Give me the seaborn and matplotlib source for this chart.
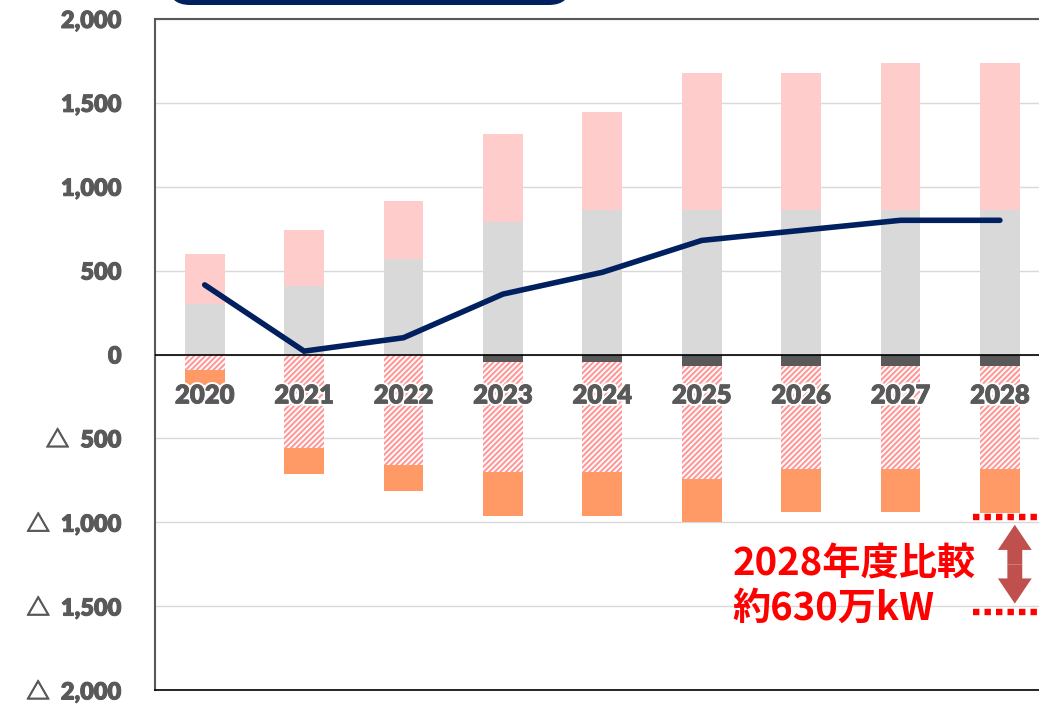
import numpy as np
import pandas as pd
import matplotlib
matplotlib.use("Agg")
import matplotlib.pyplot as plt
import matplotlib.patheffects as pe
from matplotlib.patches import FancyBboxPatch
from matplotlib.transforms import IdentityTransform
import seaborn as sns

# ---- data (万kW) ----
years = ["2020", "2021", "2022", "2023", "2024", "2025", "2026", "2027", "2028"]
supply_base = [300, 410, 570, 790, 860, 860, 860, 860, 860]
supply_add = [300, 330, 345, 525, 585, 820, 820, 880, 880]
loss_dark = [0, 0, 0, 45, 45, 70, 70, 70, 70]
loss_hatched = [95, 560, 660, 655, 655, 675, 615, 615, 615]
loss_orange = [85, 155, 155, 260, 260, 255, 255, 255, 260]
balance_line = [415, 20, 100, 360, 490, 680, 740, 800, 800]
ytick_values = [-2000, -1500, -1000, -500, 0, 500, 1000, 1500, 2000]
note_text = "2028年度比較\n約630万kW"
note_top, note_bottom = -970, -1535

sns.set_style("white")
plt.rcParams["font.family"] = ["Lato", "Noto Sans CJK JP", "DejaVu Sans"]
plt.rcParams["hatch.linewidth"] = 1.5

GRAY_TXT = "#595959"
NAVY = "#002060"

df = pd.DataFrame({
    "year": years,
    "base": supply_base,
    "add": supply_add,
    "dark": loss_dark,
    "hatched": loss_hatched,
    "orange": loss_orange,
})
df["neg_dark"] = -df["dark"]
df["neg_hatched"] = -df["hatched"]
df["neg_orange"] = -df["orange"]
hatch_bottom = -df["dark"]
orange_bottom = -(df["dark"] + df["hatched"])

fig = plt.figure(figsize=(10.39, 7.04), dpi=100)
ax = fig.add_axes([155 / 1039, 14 / 704, 894.6 / 1039, 671 / 704])

common = dict(data=df, x="year", width=0.4, saturation=1, linewidth=0, ax=ax, zorder=2)
sns.barplot(y="base", color="#D9D9D9", **common)
sns.barplot(y="add", color="#FFCCCC", bottom=df["base"], **common)
sns.barplot(y="neg_dark", color="#595959", **common)
sns.barplot(y="neg_hatched", color="white", bottom=hatch_bottom,
            hatch="//////", edgecolor="#FF9999", **common)
sns.barplot(y="neg_orange", color="#FF9966", bottom=orange_bottom, **common)

xpos = np.arange(len(years))
sns.lineplot(x=xpos, y=balance_line, color=NAVY, linewidth=4, ax=ax,
             zorder=4, solid_joinstyle="miter")

ax.axhline(0, color="black", linewidth=1.2, zorder=3)

ax.set_xlim(-0.5, 8.5)
ax.set_ylim(-2000, 2000)
ax.set_xlabel("")
ax.set_ylabel("")
ax.set_xticks([])


def fmt(v):
    if v < 0:
        return "△  " + f"{-v:,}"
    return f"{v:,}"


ax.set_yticks(ytick_values)
ax.set_yticklabels([fmt(v) for v in ytick_values])
ax.tick_params(axis="y", length=0, pad=24, labelsize=17, labelcolor=GRAY_TXT)
heavy = [pe.Stroke(linewidth=0.7, foreground=GRAY_TXT), pe.Normal()]
for lab in ax.get_yticklabels():
    lab.set_fontweight("heavy")
    lab.set_path_effects(heavy)

ax.yaxis.grid(True, color="#D9D9D9", linewidth=1)
ax.set_axisbelow(True)

for side in ["left", "top"]:
    ax.spines[side].set_color("#595959")
    ax.spines[side].set_linewidth(1.5)
ax.spines["bottom"].set_color("black")
ax.spines["bottom"].set_linewidth(1.2)
ax.spines["right"].set_visible(False)

# category labels along the zero line
for i, yr in enumerate(years):
    ax.text(i, -244, yr, ha="center", va="center", fontsize=18.5,
            fontweight="heavy", color=GRAY_TXT, zorder=5,
            path_effects=[pe.Stroke(linewidth=3.5, foreground="white"),
                          pe.Stroke(linewidth=0.6, foreground=GRAY_TXT),
                          pe.Normal()])

# 2028 comparison bracket
for level in (note_top, note_bottom):
    ax.plot([7.73, 8.6], [level, level], color="#FF0000", linewidth=4.6,
            linestyle=(0, (1, 0.8)), dash_capstyle="butt",
            zorder=5, clip_on=False)
mid = (note_top + note_bottom) / 2
for end in (note_top - 45, note_bottom + 50):
    ax.arrow(8.15, mid, 0, end - mid, width=0.15, head_width=0.34,
             head_length=150, length_includes_head=True,
             color="#C0504D", linewidth=0, zorder=5)
ax.text(5.31, -1380, note_text, ha="left", va="center", fontsize=27.5,
        fontweight="bold", color="#FF0000", linespacing=1.15,
        family=["Noto Sans CJK JP", "DejaVu Sans"], zorder=6)

# heading box above the plot area
fig.patches.append(FancyBboxPatch((168, 699), 403, 80,
                                  boxstyle="round,pad=0,rounding_size=22",
                                  transform=IdentityTransform(),
                                  facecolor=NAVY, edgecolor="none", figure=fig))

fig.savefig("out.png", dpi=100)
